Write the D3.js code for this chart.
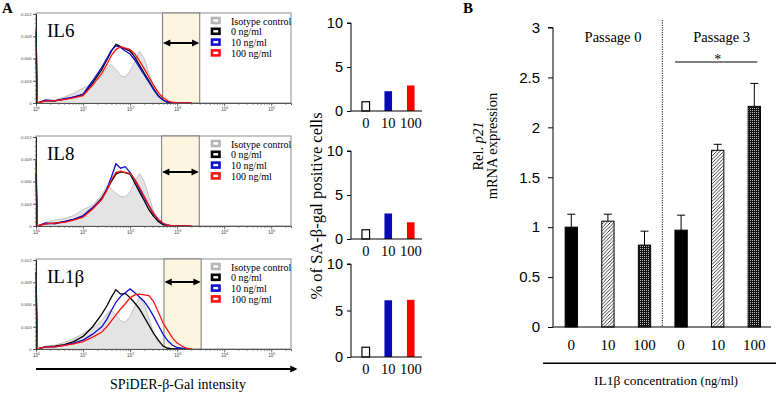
<!DOCTYPE html>
<html>
<head>
<meta charset="utf-8">
<script src="https://cdn.jsdelivr.net/npm/d3@7"></script>
<style>
  body { margin: 0; background: #fff; }
  svg { display: block; font-family: "Liberation Serif", "Times New Roman", serif; }
</style>
</head>
<body>
<div id="chart"></div>
<script>
// ---- data: flow histograms (intensity grid, density per series) ----
const intensity = [1, 1.07, 1.6, 2.5, 4, 6.3, 10, 16, 25, 32, 40, 50, 63, 79, 100, 126, 158, 200, 251, 316, 398, 501, 631, 794, 1000, 1259, 1585, 1995];

const il6Iso  = [0.0110, 0, 0.0004, 0.0004, 0.0008, 0.0013, 0.0020, 0.0026, 0.0036, 0.0047, 0.0052, 0.0045, 0.0037, 0.0035, 0.0043, 0.0056, 0.0070, 0.0060, 0.0040, 0.0022, 0.0009, 0.0003, 0.0001, 0, 0, 0, 0, 0];
const il6C0   = [0.0095, 0, 0.0003, 0.0003, 0.0005, 0.0008, 0.0011, 0.0027, 0.0045, 0.0058, 0.0070, 0.0079, 0.0076, 0.0073, 0.0070, 0.0062, 0.0051, 0.0040, 0.0030, 0.0019, 0.0010, 0.0004, 0.0001, 0, 0, 0, 0, 0];
const il6C10  = [0.0060, 0, 0.0004, 0.0003, 0.0006, 0.0008, 0.0012, 0.0030, 0.0048, 0.0060, 0.0071, 0.0077, 0.0075, 0.0070, 0.0066, 0.0058, 0.0048, 0.0038, 0.0028, 0.0018, 0.0009, 0.0004, 0.0001, 0, 0, 0, 0, 0];
const il6C100 = [0.0100, 0, 0.0003, 0.0003, 0.0005, 0.0007, 0.0010, 0.0024, 0.0040, 0.0052, 0.0064, 0.0072, 0.0076, 0.0074, 0.0072, 0.0066, 0.0057, 0.0046, 0.0035, 0.0024, 0.0014, 0.0007, 0.0003, 0.0001, 0, 0, 0, 0];

const il8Iso  = [0.0120, 0, 0.0005, 0.0008, 0.0010, 0.0014, 0.0022, 0.0028, 0.0042, 0.0054, 0.0050, 0.0044, 0.0040, 0.0039, 0.0046, 0.0060, 0.0071, 0.0060, 0.0040, 0.0020, 0.0007, 0.0002, 0, 0, 0, 0, 0, 0];
const il8C0   = [0.0070, 0, 0.0003, 0.0004, 0.0006, 0.0009, 0.0013, 0.0024, 0.0038, 0.0049, 0.0060, 0.0070, 0.0073, 0.0072, 0.0070, 0.0058, 0.0046, 0.0034, 0.0022, 0.0013, 0.0006, 0.0002, 0.0001, 0, 0, 0, 0, 0];
const il8C10  = [0.0088, 0, 0.0004, 0.0003, 0.0006, 0.0009, 0.0014, 0.0025, 0.0036, 0.0050, 0.0066, 0.0084, 0.0078, 0.0080, 0.0072, 0.0062, 0.0050, 0.0038, 0.0027, 0.0016, 0.0008, 0.0003, 0.0001, 0, 0, 0, 0, 0];
const il8C100 = [0.0060, 0, 0.0003, 0.0004, 0.0005, 0.0008, 0.0012, 0.0023, 0.0036, 0.0048, 0.0062, 0.0072, 0.0074, 0.0072, 0.0071, 0.0063, 0.0052, 0.0040, 0.0028, 0.0017, 0.0009, 0.0004, 0.0001, 0, 0, 0, 0, 0];

const il1bIso  = [0.0120, 0, 0.0004, 0.0005, 0.0009, 0.0014, 0.0021, 0.0028, 0.0038, 0.0048, 0.0052, 0.0046, 0.0038, 0.0036, 0.0044, 0.0058, 0.0070, 0.0060, 0.0041, 0.0022, 0.0009, 0.0003, 0.0001, 0, 0, 0, 0, 0];
const il1bC0   = [0.0104, 0, 0.0003, 0.0004, 0.0006, 0.0010, 0.0017, 0.0030, 0.0047, 0.0058, 0.0070, 0.0080, 0.0074, 0.0075, 0.0069, 0.0062, 0.0054, 0.0043, 0.0032, 0.0021, 0.0012, 0.0004, 0.0001, 0, 0, 0, 0, 0];
const il1bC10  = [0.0085, 0, 0.0003, 0.0003, 0.0005, 0.0008, 0.0012, 0.0020, 0.0030, 0.0040, 0.0052, 0.0063, 0.0071, 0.0076, 0.0081, 0.0076, 0.0070, 0.0064, 0.0055, 0.0044, 0.0032, 0.0020, 0.0011, 0.0005, 0.0002, 0.0001, 0, 0];
const il1bC100 = [0.0080, 0, 0.0003, 0.0003, 0.0005, 0.0007, 0.0010, 0.0016, 0.0023, 0.0030, 0.0038, 0.0046, 0.0054, 0.0061, 0.0069, 0.0073, 0.0074, 0.0073, 0.0072, 0.0064, 0.0050, 0.0035, 0.0025, 0.0015, 0.0008, 0.0004, 0.0001, 0];

const gateLo = [490, 468, 525];
const gateHi = [3020, 2950, 3240];
const legendLabels = ["Isotype control", "0 ng/ml", "10 ng/ml", "100 ng/ml"];
const histTicksY = [0, 0.003, 0.006, 0.009, 0.012];

// ---- data: % SA-beta-gal positive cells ----
const concLabels = ["0", "10", "100"];
const posIL6  = [1.05, 2.25, 2.9];
const posIL8  = [1.05, 2.9, 1.9];
const posIL1b = [1.05, 6.1, 6.15];

// ---- data: p21 expression ----
const p21Labels = ["0", "10", "100", "0", "10", "100"];
const p21Mean = [1.0, 1.06, 0.82, 0.97, 1.77, 2.21];
const p21Err  = [0.13, 0.07, 0.14, 0.15, 0.06, 0.23];
const p21Ticks = [0, 0.5, 1, 1.5, 2, 2.5, 3];

const svg = d3.select("#chart").append("svg")
  .attr("width", 777).attr("height", 394);

const defs = svg.append("defs");
defs.append("marker").attr("id", "head")
  .attr("viewBox", "0 0 10 10").attr("refX", 8).attr("refY", 5)
  .attr("markerWidth", 4).attr("markerHeight", 3.6)
  .attr("orient", "auto-start-reverse")
  .append("path").attr("d", "M0,0L10,5L0,10z").attr("fill", "#000");

const hatch = defs.append("pattern").attr("id", "hatch")
  .attr("patternUnits", "userSpaceOnUse").attr("width", 3.5).attr("height", 3.5);
hatch.append("rect").attr("width", 3.5).attr("height", 3.5).attr("fill", "#fff");
hatch.append("path").attr("d", "M-1,1L1,-1M0,3.5L3.5,0M2.5,4.5L4.5,2.5")
  .attr("stroke", "#111").attr("stroke-width", 0.8);

const dots = defs.append("pattern").attr("id", "dots")
  .attr("patternUnits", "userSpaceOnUse").attr("width", 2).attr("height", 2);
dots.append("rect").attr("width", 2).attr("height", 2).attr("fill", "#111");
dots.append("rect").attr("width", 1).attr("height", 1).attr("fill", "#bbb");

// panel letters
svg.append("text").attr("x", 2).attr("y", 13).attr("font-size", 15).attr("font-weight", "bold").text("A");
svg.append("text").attr("x", 463).attr("y", 13).attr("font-size", 15).attr("font-weight", "bold").text("B");

// ---------------- histograms ----------------
const histX = d3.scaleLog().domain([1, Math.pow(10, 5.42)]).range([36, 291]);
const seriesColors = ["#000", "#1010d0", "#ff1010"];
const legendColors = ["#b5b5b5", "#000", "#1010d0", "#ff1010"];

const histPanels = [
  { name: "IL6", top: 13, iso: il6Iso, lines: [il6C0, il6C10, il6C100], arrowDy: 30 },
  { name: "IL8", top: 136, iso: il8Iso, lines: [il8C0, il8C10, il8C100], arrowDy: 36 },
  { name: "IL1β", top: 259, iso: il1bIso, lines: [il1bC0, il1bC10, il1bC100], arrowDy: 23 }
];

const minorX = [];
for (let e = 0; e <= 5; e++) for (let k = 1; k <= 9; k++) {
  const v = k * Math.pow(10, e);
  if (v <= Math.pow(10, 5.42)) minorX.push(v);
}

histPanels.forEach((p, i) => {
  const h = 90;
  const y = d3.scaleLinear().domain([0, 0.012]).range([p.top + h, p.top + 1]);
  const g = svg.append("g");

  g.append("rect").attr("x", 36).attr("y", p.top).attr("width", 255).attr("height", h)
    .attr("fill", "#fff").attr("stroke", "#8c8c8c").attr("stroke-width", 1);

  g.append("rect")
    .attr("x", histX(gateLo[i])).attr("y", p.top)
    .attr("width", histX(gateHi[i]) - histX(gateLo[i])).attr("height", h)
    .attr("fill", "#fdf5e0").attr("stroke", "#777").attr("stroke-width", 1);

  const pts = intensity.map((v, j) => j);
  g.append("path")
    .attr("d", d3.area().x(j => histX(intensity[j])).y0(y(0)).y1(j => y(p.iso[j]))(pts))
    .attr("fill", "#e4e4e4").attr("stroke", "#c4c4c4").attr("stroke-width", 1);

  p.lines.forEach((arr, k) => {
    g.append("path")
      .attr("d", d3.line().x(j => histX(intensity[j])).y(j => y(arr[j]))(pts))
      .attr("fill", "none").attr("stroke", seriesColors[k]).attr("stroke-width", 1.3);
  });

  // axes
  g.append("g").attr("transform", `translate(0,${p.top + h})`)
    .call(d3.axisBottom(histX).tickValues(minorX).tickSize(2).tickFormat(""))
    .call(a => a.select(".domain").attr("stroke", "#555"))
    .call(a => a.selectAll("line").attr("stroke", "#555").attr("stroke-width", 0.6));
  const maj = g.append("g").attr("transform", `translate(0,${p.top + h})`)
    .call(d3.axisBottom(histX).tickValues([1, 10, 100, 1000, 10000, 100000]).tickSize(3.5).tickPadding(1.5).tickFormat(""))
    .call(a => a.select(".domain").remove())
    .call(a => a.selectAll("line").attr("stroke", "#555").attr("stroke-width", 0.7));
  maj.selectAll(".tick text").each(function(d) {
    const t = d3.select(this).attr("font-size", 4.5).attr("fill", "#444").attr("font-family", "Liberation Sans, Arial, sans-serif");
    t.text("10");
    t.append("tspan").attr("dy", -2).attr("font-size", 3.5).text(Math.round(Math.log10(d)));
  });

  g.append("g").attr("transform", "translate(36,0)")
    .call(d3.axisLeft(y).tickValues(d3.range(0, 0.01201, 0.0006)).tickSize(1.5).tickFormat(""))
    .call(a => a.select(".domain").remove())
    .call(a => a.selectAll("line").attr("stroke", "#555").attr("stroke-width", 0.5));
  g.append("g").attr("transform", "translate(36,0)")
    .call(d3.axisLeft(y).tickValues(histTicksY).tickSize(3).tickPadding(1.5)
      .tickFormat(d => d === 0 ? "0" : d3.format(".3f")(d)))
    .call(a => a.select(".domain").attr("stroke", "#222").attr("stroke-width", 1))
    .call(a => a.selectAll("line").attr("stroke", "#555"))
    .call(a => a.selectAll("text").attr("font-size", 4.2).attr("fill", "#444")
      .attr("font-family", "Liberation Sans, Arial, sans-serif"));

  // gate arrow
  const gx0 = histX(gateLo[i]), gx1 = histX(gateHi[i]);
  g.append("line").attr("x1", gx0 + 2).attr("x2", gx1 - 2)
    .attr("y1", p.top + p.arrowDy).attr("y2", p.top + p.arrowDy)
    .attr("stroke", "#000").attr("stroke-width", 2)
    .attr("marker-start", "url(#head)").attr("marker-end", "url(#head)");

  // title
  g.append("text").attr("x", 47).attr("y", p.top + 24).attr("font-size", 19).text(p.name);

  // legend
  legendLabels.forEach((lab, k) => {
    const ly = p.top + 5 + k * 10.8;
    g.append("rect").attr("x", 212).attr("y", ly).attr("width", 7.5).attr("height", 5)
      .attr("fill", "#fff").attr("stroke", legendColors[k]).attr("stroke-width", 2.6);
    g.append("text").attr("x", 231).attr("y", ly + 6.5).attr("font-size", 10).text(lab);
  });
});

// intensity arrow
svg.append("line").attr("x1", 36).attr("x2", 296).attr("y1", 369).attr("y2", 369)
  .attr("stroke", "#000").attr("stroke-width", 2).attr("marker-end", "url(#head)");
svg.append("text").attr("x", 178).attr("y", 389).attr("text-anchor", "middle")
  .attr("font-size", 14).text("SPiDER-β-Gal  intensity");

// ---------------- % positive bar charts ----------------
const barColors = ["#fff", "#0a0ab4", "#ff0000"];
const barPanels = [
  { vals: posIL6, top: 23, h: 88 },
  { vals: posIL8, top: 151, h: 88 },
  { vals: posIL1b, top: 264, h: 93 }
];
const bx = d3.scalePoint().domain(concLabels).range([354.5, 422]).padding(0.5);

barPanels.forEach(p => {
  const y = d3.scaleLinear().domain([0, 10]).range([p.top + p.h, p.top]);
  const g = svg.append("g");
  g.selectAll("rect").data(p.vals).join("rect")
    .attr("x", (d, i) => bx(concLabels[i]) - 3.8)
    .attr("y", d => y(d))
    .attr("width", 7.6)
    .attr("height", d => y(0) - y(d))
    .attr("fill", (d, i) => barColors[i])
    .attr("stroke", (d, i) => i === 0 ? "#000" : "none")
    .attr("stroke-width", 1.2);

  g.append("g").attr("transform", "translate(351,0)")
    .call(d3.axisLeft(y).tickValues([0, 5, 10]).tickSize(4).tickPadding(4))
    .call(a => a.select(".domain").attr("d", `M-4,${y(10)}H0V${y(0)}`))
    .call(a => a.selectAll("text").attr("font-size", 14.5).attr("font-family", null).attr("fill", "#000"));

  g.append("line").attr("x1", 351).attr("x2", 422).attr("y1", y(0)).attr("y2", y(0))
    .attr("stroke", "#000").attr("stroke-width", 1);
  g.selectAll(".xl").data(concLabels).join("text").attr("class", "xl")
    .attr("x", d => bx(d)).attr("y", y(0) + 17).attr("text-anchor", "middle")
    .attr("font-size", 14.5).text(d => d);
});

svg.append("text").attr("transform", "translate(322,206) rotate(-90)")
  .attr("text-anchor", "middle").attr("font-size", 16.5).text("% of SA-β-gal positive cells");

// ---------------- p21 panel ----------------
const px = d3.scalePoint().domain(d3.range(6)).range([553, 772.6]).padding(0.5);
const py = d3.scaleLinear().domain([0, 3]).range([327, 27.5]);
const p21Fill = ["#000", "url(#hatch)", "url(#dots)", "#000", "url(#hatch)", "url(#dots)"];
const bw = 12.3;

const gb = svg.append("g");
gb.append("line").attr("x1", 662.3).attr("x2", 662.3).attr("y1", 20).attr("y2", py(0))
  .attr("stroke", "#000").attr("stroke-width", 1).attr("stroke-dasharray", "1.2,1.2");

// error bars
p21Mean.forEach((m, i) => {
  const cx = px(i);
  gb.append("line").attr("x1", cx).attr("x2", cx).attr("y1", py(m)).attr("y2", py(m + p21Err[i]))
    .attr("stroke", "#000").attr("stroke-width", 1);
  gb.append("line").attr("x1", cx - 4).attr("x2", cx + 4)
    .attr("y1", py(m + p21Err[i])).attr("y2", py(m + p21Err[i]))
    .attr("stroke", "#000").attr("stroke-width", 1);
});

gb.selectAll(".bar").data(p21Mean).join("rect").attr("class", "bar")
  .attr("x", (d, i) => px(i) - bw / 2)
  .attr("y", d => py(d))
  .attr("width", bw)
  .attr("height", d => py(0) - py(d))
  .attr("fill", (d, i) => p21Fill[i])
  .attr("stroke", "#000").attr("stroke-width", 1);

gb.append("g").attr("transform", "translate(553,0)")
  .call(d3.axisLeft(py).tickValues(p21Ticks).tickSize(5).tickPadding(8).tickFormat(d3.format("")))
  .call(a => a.select(".domain").attr("d", `M-5,${py(3)}H0V${py(0)}`))
  .call(a => a.selectAll("text").attr("font-size", 15).attr("font-family", null).attr("fill", "#000"));

gb.append("line").attr("x1", 553).attr("x2", 771).attr("y1", py(0)).attr("y2", py(0))
  .attr("stroke", "#000").attr("stroke-width", 1.2);
gb.selectAll(".xl").data(p21Labels).join("text").attr("class", "xl")
  .attr("x", (d, i) => px(i)).attr("y", py(0) + 23).attr("text-anchor", "middle")
  .attr("font-size", 15).text(d => d);

gb.append("text").attr("x", 613).attr("y", 42).attr("text-anchor", "middle").attr("font-size", 14.5).text("Passage 0");
gb.append("text").attr("x", 721.7).attr("y", 42).attr("text-anchor", "middle").attr("font-size", 14.5).text("Passage 3");
gb.append("line").attr("x1", 675).attr("x2", 757.3).attr("y1", 62).attr("y2", 62)
  .attr("stroke", "#000").attr("stroke-width", 1.2);
gb.append("text").attr("x", px(4)).attr("y", 64).attr("text-anchor", "middle").attr("font-size", 14).text("*");

const ylab = gb.append("text").attr("transform", "translate(483,146) rotate(-90)")
  .attr("text-anchor", "middle").attr("font-size", 14.5);
ylab.append("tspan").text("Rel. ");
ylab.append("tspan").attr("font-style", "italic").text("p21");
gb.append("text").attr("transform", "translate(497,146) rotate(-90)")
  .attr("text-anchor", "middle").attr("font-size", 14.5).text("mRNA expression");

gb.append("line").attr("x1", 543).attr("x2", 776).attr("y1", 363.3).attr("y2", 363.3)
  .attr("stroke", "#000").attr("stroke-width", 1.5);
const xlab = gb.append("text").attr("x", 666).attr("y", 385).attr("text-anchor", "middle").attr("font-size", 13.5);
xlab.append("tspan").text("IL1β concentration  ");
xlab.append("tspan").attr("font-size", 12.5).text("(ng/ml)");
</script>
</body>
</html>
